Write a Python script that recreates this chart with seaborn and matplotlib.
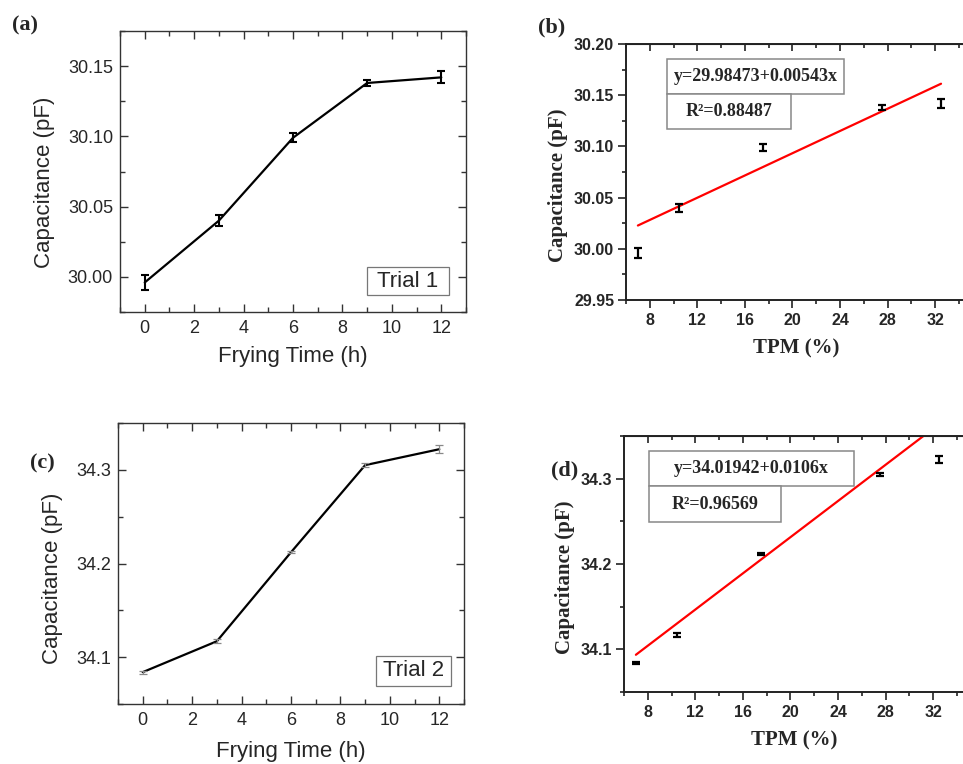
import numpy as np
import pandas as pd
import matplotlib
matplotlib.use("Agg")
import matplotlib.pyplot as plt
from matplotlib.patches import Rectangle
from matplotlib.ticker import MultipleLocator, FormatStrFormatter
import seaborn as sns

# Data
frying_time = [0, 3, 6, 9, 12]
tpm = [7.0, 10.5, 17.5, 27.5, 32.5]
cap_trial1 = [29.996, 30.040, 30.099, 30.138, 30.142]
err_trial1 = [0.005, 0.004, 0.0033, 0.002, 0.0043]
cap_trial2 = [34.084, 34.117, 34.212, 34.305, 34.322]
err_trial2 = [0.0015, 0.002, 0.0012, 0.002, 0.004]

# linear fits printed in panels (b) and (d)
fit1_intercept, fit1_slope, fit1_r2 = 29.98473, 0.00543, 0.88487
fit2_intercept, fit2_slope, fit2_r2 = 34.01942, 0.0106, 0.96569
fit1_label = "y=29.98473+0.00543x"
fit2_label = "y=34.01942+0.0106x"

df1 = pd.DataFrame({"time": frying_time, "tpm": tpm, "cap": cap_trial1, "err": err_trial1})
df2 = pd.DataFrame({"time": frying_time, "tpm": tpm, "cap": cap_trial2, "err": err_trial2})

sns.set_style("ticks")
plt.rcParams["font.family"] = ["Liberation Sans", "DejaVu Sans"]

SANS = "Liberation Sans"
SERIF = "Liberation Serif"

fig = plt.figure(figsize=(9.63, 7.64), dpi=100)
W, H = 963, 764


def px_axes(left, top, right, bottom):
    return fig.add_axes([left / W, 1 - bottom / H, (right - left) / W, (bottom - top) / H])


def time_panel(ax, df, ylim, ymajor, yfmt, err_color, err_lw, trial, trial_box, label_pos, xlab_y, ylab_x):
    sns.lineplot(data=df, x="time", y="cap", ax=ax, color="black", lw=1.6, errorbar=None)
    ax.errorbar(df["time"], df["cap"], yerr=df["err"], fmt="none", ecolor=err_color,
                elinewidth=err_lw, capsize=2.6, capthick=err_lw)
    ax.set_xlim(-1, 13)
    ax.set_ylim(*ylim)
    ax.xaxis.set_major_locator(MultipleLocator(2))
    ax.xaxis.set_minor_locator(MultipleLocator(1))
    ax.yaxis.set_major_locator(MultipleLocator(ymajor))
    ax.yaxis.set_minor_locator(MultipleLocator(ymajor / 2))
    ax.yaxis.set_major_formatter(yfmt)
    ax.tick_params(which="both", direction="in", top=True, right=True, color="#333333")
    ax.tick_params(which="major", length=6, width=1)
    ax.tick_params(which="minor", length=3.5, width=1)
    ax.tick_params(axis="x", labelsize=13, pad=6)
    ax.tick_params(axis="y", labelsize=13, pad=5)
    for s in ax.spines.values():
        s.set_visible(True)
        s.set_color("#333333")
        s.set_linewidth(1)
    ax.set_xlabel("Frying Time (h)", fontsize=16, fontfamily=SANS)
    ax.set_ylabel("Capacitance (pF)", fontsize=16, fontfamily=SANS)
    ax.xaxis.set_label_coords(0.5, xlab_y)
    ax.yaxis.set_label_coords(ylab_x, label_pos)
    x0, x1, y0, y1 = trial_box
    ax.add_patch(Rectangle((x0, y0), x1 - x0, y1 - y0, transform=ax.transAxes,
                           fc="white", ec="#777777", lw=0.9, zorder=5))
    ax.text((x0 + x1) / 2, (y0 + y1) / 2, trial, transform=ax.transAxes, ha="center",
            va="center", fontsize=16, fontfamily=SANS, zorder=6)


def tpm_panel(ax, df, intercept, slope, r2, eq_label, ylim, ymajor, yfmt, boxes, ylab_x):
    fit = pd.DataFrame({"tpm": [df["tpm"].min(), df["tpm"].max()]})
    fit["cap"] = intercept + slope * fit["tpm"]
    sns.lineplot(data=fit, x="tpm", y="cap", ax=ax, color="red", lw=1.6, errorbar=None)
    ax.errorbar(df["tpm"], df["cap"], yerr=df["err"], fmt="none", ecolor="black",
                elinewidth=1.6, capsize=2.6, capthick=1.6)
    ax.set_xlim(6, 34.6)
    ax.set_ylim(*ylim)
    ax.xaxis.set_major_locator(MultipleLocator(4))
    ax.xaxis.set_minor_locator(MultipleLocator(2))
    ax.yaxis.set_major_locator(MultipleLocator(ymajor))
    ax.yaxis.set_minor_locator(MultipleLocator(ymajor / 2))
    ax.yaxis.set_major_formatter(yfmt)
    ax.tick_params(which="both", direction="out", color="#222222", width=1.2)
    ax.tick_params(which="major", length=5.5)
    ax.tick_params(which="minor", length=3)
    ax.tick_params(axis="x", labelsize=11.5, pad=4)
    ax.tick_params(axis="y", labelsize=11.5, pad=3)
    top = ax.secondary_xaxis("top")
    top.xaxis.set_major_locator(MultipleLocator(4))
    top.xaxis.set_minor_locator(MultipleLocator(2))
    top.tick_params(which="both", direction="in", labeltop=False, width=1.2, color="#222222")
    top.tick_params(which="major", length=5)
    top.tick_params(which="minor", length=3)
    for lab in ax.get_xticklabels() + ax.get_yticklabels():
        lab.set_fontweight("bold")
    for s in ax.spines.values():
        s.set_visible(True)
        s.set_color("#222222")
        s.set_linewidth(1.4)
    ax.set_xlabel("TPM (%)", fontsize=15, fontfamily=SERIF, fontweight="bold")
    ax.set_ylabel("Capacitance (pF)", fontsize=15, fontfamily=SERIF, fontweight="bold")
    ax.xaxis.set_label_coords(0.5, -0.15)
    ax.yaxis.set_label_coords(ylab_x, 0.447)
    x0, x1_eq, x1_r2, y_top, y_mid, y_bot = boxes
    ax.add_patch(Rectangle((x0, y_mid), x1_eq - x0, y_top - y_mid, transform=ax.transAxes,
                           fc="white", ec="#888888", lw=1.1, zorder=5))
    ax.add_patch(Rectangle((x0, y_bot), x1_r2 - x0, y_mid - y_bot, transform=ax.transAxes,
                           fc="white", ec="#888888", lw=1.1, zorder=5))
    ax.text((x0 + x1_eq) / 2, (y_top + y_mid) / 2, eq_label, transform=ax.transAxes,
            ha="center", va="center", fontsize=13, fontfamily=SERIF, fontweight="bold", zorder=6)
    ax.text((x0 + x1_r2) / 2, (y_mid + y_bot) / 2, "R\u00b2=%.5f" % r2,
            transform=ax.transAxes, ha="center", va="center", fontsize=13,
            fontfamily=SERIF, fontweight="bold", zorder=6)


fmt2 = FormatStrFormatter("%.2f")
fmt1 = FormatStrFormatter("%.1f")

ax_a = px_axes(120, 31, 466, 312)
time_panel(ax_a, df1, (29.975, 30.175), 0.05, fmt2, "black", 1.5, "Trial 1",
           (0.714, 0.951, 0.0605, 0.160), 0.46, -0.12, -0.188)

ax_c = px_axes(118, 423, 464, 704)
time_panel(ax_c, df2, (34.05, 34.35), 0.1, fmt1, "#888888", 0.9, "Trial 2",
           (0.745, 0.962, 0.065, 0.172), 0.448, -0.13, -0.16)

ax_b = px_axes(626, 44, 966, 300)
tpm_panel(ax_b, df1, fit1_intercept, fit1_slope, fit1_r2, fit1_label,
          (29.95, 30.20), 0.05, fmt2, (0.1215, 0.642, 0.486, 0.940, 0.8035, 0.667), -0.17)

ax_d = px_axes(624, 436, 964, 692)
tpm_panel(ax_d, df2, fit2_intercept, fit2_slope, fit2_r2, fit2_label,
          (34.05, 34.35), 0.1, fmt1, (0.0726, 0.675, 0.462, 0.941, 0.8035, 0.664), -0.145)

# panel letters
for letter, x, y in [("(a)", 12, 25), ("(b)", 538, 27), ("(c)", 30, 463), ("(d)", 551, 470)]:
    fig.text(x / W, 1 - y / H, letter, fontsize=16, fontfamily=SERIF, fontweight="bold",
             ha="left", va="center")

fig.savefig("out.png", dpi=100)
